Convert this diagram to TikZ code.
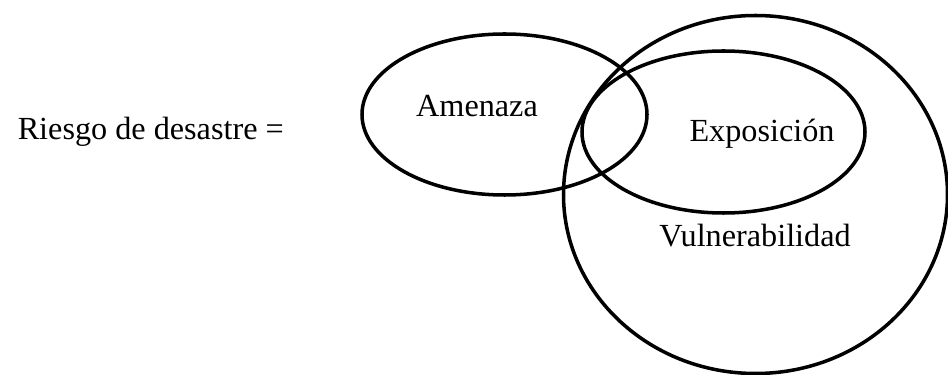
\documentclass[tikz,border=0pt]{standalone}
\usepackage{fontspec}
\setmainfont{Liberation Serif}
\usetikzlibrary{positioning}

\tikzset{
  ring/.style={line width=3pt},
  term/.style={font=\fontsize{27.5}{33}\selectfont, inner sep=0pt},
}

\begin{document}
\begin{tikzpicture}[x=0.03cm, y=-0.03cm]
  \useasboundingbox (0,0) rectangle (948,375);
  % the three overlapping sets
  \draw[ring] (504.5,114.5) ellipse [x radius=142.5, y radius=80.5];
  \draw[ring] (723.5,132) ellipse [x radius=141.5, y radius=81];
  \draw[ring] (755.5,194.5) ellipse [x radius=192, y radius=179];
  % labels
  \node[term, anchor=base east] (riesgo) at (284,140) {Riesgo de desastre =};
  \node[term, anchor=base] (amenaza) at (477,117) {Amenaza};
  \node[term, anchor=base] (exposicion) at (762,142) {Exposición};
  \node[term, anchor=base] (vulnera) at (755,247) {Vulnerabilidad};
\end{tikzpicture}
\end{document}
